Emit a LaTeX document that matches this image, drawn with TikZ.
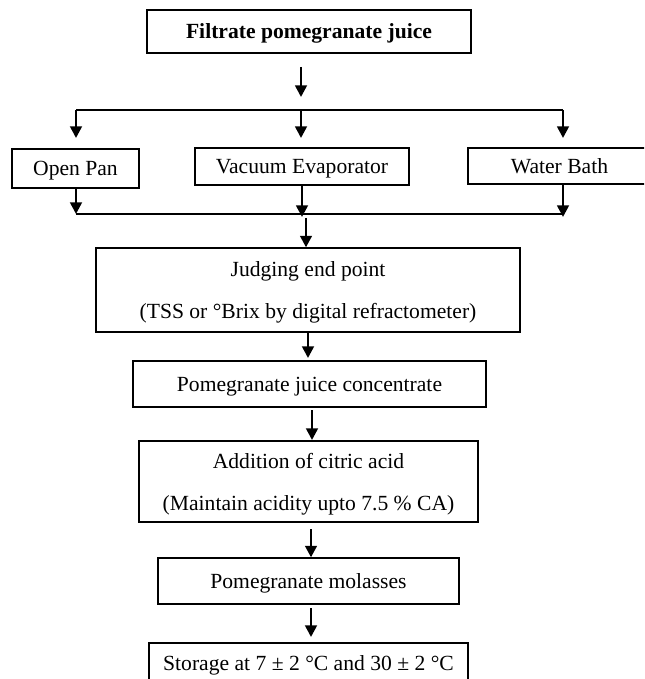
\documentclass[tikz,border=0pt]{standalone}
\usepackage{fontspec}
\setmainfont{Liberation Serif}
\usetikzlibrary{arrows.meta}
\begin{document}
\begin{tikzpicture}[x=0.5pt,y=-0.5pt,
  box/.style={draw, line width=0.65pt, inner sep=0pt, align=center, text depth=0pt, font=\fontsize{10.8}{21}\selectfont},
  arr/.style={line width=1.3pt, -{Triangle[width=5.8pt,length=5.8pt]}},
  rule/.style={line width=0.55pt}]
\useasboundingbox (0,0) rectangle (644,679);
\clip (0,0) rectangle (644,679);
% boxes
\node[box, minimum width=162pt, minimum height=21.5pt, font=\bfseries\fontsize{10.8}{21}\selectfont] (top) at (309,31.5) {Filtrate pomegranate juice};
\node[box, minimum width=63.5pt, minimum height=19.5pt] (open) at (75.5,168.5) {Open Pan};
\node[box, minimum width=107pt, minimum height=18.5pt] (vac) at (302,166.5) {Vacuum Evaporator};
\node[box, minimum width=91.5pt, minimum height=18pt] (water) at (559.5,166) {Water Bath};
\node[box, minimum width=212pt, minimum height=42pt] (judge) at (308,290) {Judging end point\\(TSS or °Brix by digital refractometer)};
\node[box, minimum width=176.5pt, minimum height=23pt] (conc) at (309.5,384) {Pomegranate juice concentrate};
\node[box, minimum width=169.5pt, minimum height=40.5pt] (add) at (308.5,481.5) {Addition of citric acid\\(Maintain acidity upto 7.5 \% CA)};
\node[box, minimum width=150.5pt, minimum height=23pt] (mol) at (308.5,581) {Pomegranate molasses};
\node[box, minimum width=159.5pt, minimum height=20pt] (stor) at (308.5,663) {Storage at 7 ± 2 °C and 30 ± 2 °C};
% coordinates
\coordinate (a1s) at (301,67);
\coordinate (a1e) at (301,97);
\coordinate (sL) at (76,110);
\coordinate (sM) at (301,110);
\coordinate (sR) at (563,110);
\coordinate (tL) at (76,138);
\coordinate (tM) at (301,138);
\coordinate (tR) at (563,138);
\coordinate (mL) at (76,214);
\coordinate (mR) at (563,214);
\coordinate (eL) at (76,214);
\coordinate (eM) at (302,217);
\coordinate (eR) at (563,217);
\coordinate (j0) at (306,218);
\coordinate (c0) at (308,358);
\coordinate (d0) at (312,410);
\coordinate (d1) at (312,440);
\coordinate (f0) at (311,529);
\coordinate (g0) at (311,608);
\coordinate (g1) at (311,637);
% connectors
\draw[arr] (a1s) -- (a1e);
\draw[rule] (sL) -- (sR);
\draw[arr] (sL) -- (tL);
\draw[arr] (sM) -- (tM);
\draw[arr] (sR) -- (tR);
\draw[arr] (open.south -| eL) -- (eL);
\draw[arr] (vac.south -| eM) -- (eM);
\draw[arr] (water.south -| eR) -- (eR);
\draw[rule] (mL) -- (mR);
\draw[arr] (j0) -- (j0 |- judge.north);
\draw[arr] (judge.south -| c0) -- (c0);
\draw[arr] (d0) -- (d1);
\draw[arr] (f0) -- (f0 |- mol.north);
\draw[arr] (g0) -- (g1);
\end{tikzpicture}
\end{document}
